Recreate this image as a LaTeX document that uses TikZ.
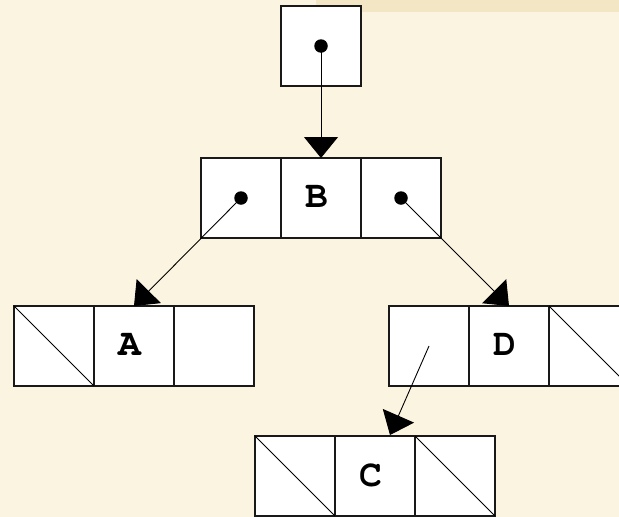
\documentclass[tikz,border=0pt]{standalone}
\usepackage[T1]{fontenc}
\usepackage{courier}
\usetikzlibrary{arrows.meta}
\definecolor{paper}{RGB}{251,244,225}
\definecolor{band}{RGB}{243,230,196}
\newcommand\keytext[1]{\raisebox{1.5pt}{#1}\kern9pt}
\tikzset{
  cell/.style={draw=black!90, line width=1.2pt, fill=white, minimum width=80pt,
    minimum height=80pt, inner sep=0pt, outer sep=0pt,
    font=\ttfamily\bfseries\fontsize{38}{38}\selectfont},
  nil/.style={line width=0.8pt},
  dot/.style={circle, fill=black, minimum size=13.5pt, inner sep=0pt},
  link/.style={line width=0.9pt, -{Triangle[length=21pt,width=34pt]}}
}
\begin{document}
\begin{tikzpicture}[x=1pt,y=-1pt]
  \useasboundingbox (0,0) rectangle (619,517);
  \clip (0,0) rectangle (619,517);
  \fill[paper] (0,0) rectangle (619,517);
  \fill[band] (316,0) rectangle (619,12);

  % root pointer
  \node[cell] (top) at (321,46) {};
  % node B
  \node[cell] (bL) at (241,198) {};
  \node[cell] (bM) at (321,198) {\keytext{B}};
  \node[cell] (bR) at (401,198) {};
  % node A
  \node[cell] (aL) at (54,346) {};
  \node[cell] (aM) at (134,346) {\keytext{A}};
  \node[cell] (aR) at (214,346) {};
  % node D
  \node[cell] (dL) at (429,346) {};
  \node[cell] (dM) at (509,346) {\keytext{D}};
  \node[cell] (dR) at (589,346) {};
  % node C
  \node[cell] (cL) at (295,476) {};
  \node[cell] (cM) at (375,476) {\keytext{C}};
  \node[cell] (cR) at (455,476) {};

  % null pointers
  \draw[nil] (aL.north west) -- (aL.south east);
  \draw[nil] (dR.north west) -- (dR.south east);
  \draw[nil] (cL.north west) -- (cL.south east);
  \draw[nil] (cR.north west) -- (cR.south east);

  % pointer origins
  \node[dot] (p0) at (top.center) {};
  \node[dot] (p1) at (bL.center) {};
  \node[dot] (p2) at (bR.center) {};
  \coordinate (p3) at (dL.center);
  \coordinate (cIn) at (390,435);

  % links
  \draw[link] (p0.center) -- (bM.north);
  \draw[link] (p1.center) -- (aM.north);
  \draw[link] (p2.center) -- (dM.north);
  \draw[link] (p3) -- (cIn);
\end{tikzpicture}
\end{document}
